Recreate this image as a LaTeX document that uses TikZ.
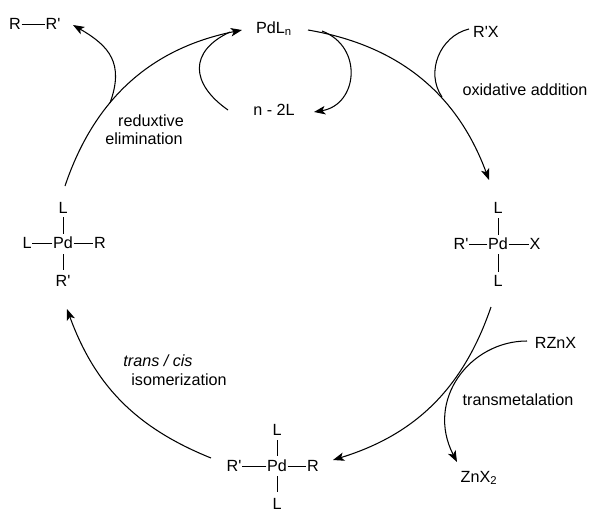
\documentclass[tikz,border=0pt]{standalone}
\usepackage{fontspec}
\setmainfont{Liberation Sans}
\usetikzlibrary{arrows.meta}
\newcommand{\prm}{\textquotesingle}

\begin{document}
\begin{tikzpicture}[x=0.025cm,y=-0.025cm,
        lbl/.style={inner sep=0.3pt,font=\fontsize{11.5pt}{13pt}\selectfont},
        bond/.style={line width=0.6pt},
        cyc/.style={line width=0.75pt,-{Stealth[length=8pt,width=6pt,inset=2pt]}},
        side/.style={line width=0.75pt}]
        \useasboundingbox (0,0) rectangle (600,520);

        % Catalyst and products
        \node[lbl] (pdln) at (274,28.5) {PdL\textsubscript{n}};
        \node[lbl] (loss) at (274,110) {n - 2L};
        \node[lbl] (rgt) at (53,24) {R\prm};
        \node[lbl] (lft) at (15,24) {R};
        \draw[bond] (lft) -- (rgt);

        % Complex on the right
        \node[lbl] (pdA) at (498,244) {Pd};
        \node[lbl] (aT) at (498,208) {L};
        \node[lbl] (aB) at (498,281) {L};
        \node[lbl] (aL) at (461,244) {R\prm};
        \node[lbl] (aR) at (535,244) {X};
        \draw[bond] (pdA) -- (aL);
        \draw[bond] (pdA) -- (aR);
        \draw[bond] (498,218) -- (498,235);
        \draw[bond] (498,254) -- (498,272);

        % Complex at the bottom
        \node[lbl] (pdB) at (277,466) {Pd};
        \node[lbl] (bT) at (277,430) {L};
        \node[lbl] (bB) at (277,504) {L};
        \node[lbl] (bL) at (234,466) {R\prm};
        \node[lbl] (bR) at (313,466) {R};
        \draw[bond] (pdB) -- (bL);
        \draw[bond] (pdB) -- (bR);
        \draw[bond] (277,440) -- (277,456);
        \draw[bond] (277,476) -- (277,492);

        % Complex on the left
        \node[lbl] (pdC) at (63,243) {Pd};
        \node[lbl] (cT) at (63,208) {L};
        \node[lbl] (cB) at (63,281) {R\prm};
        \node[lbl] (cL) at (27,243) {L};
        \node[lbl] (cR) at (100,243) {R};
        \draw[bond] (pdC) -- (cL);
        \draw[bond] (pdC) -- (cR);
        \draw[bond] (63,217) -- (63,234);
        \draw[bond] (63,254) -- (63,270);

        % Reagents and labels
        \node[lbl] (rpx) at (486,32) {R\prm X};
        \node[lbl] (rznx) at (555.5,343) {RZnX};
        \node[lbl] (znx) at (479,478) {ZnX\textsubscript{2}};
        \node[lbl] (oxi) at (525,90) {oxidative addition};
        \node[lbl] (tra) at (518,400) {transmetalation};
        \node[lbl] (red) at (151,121) {reduxtive};
        \node[lbl] (eli) at (144,139) {elimination};
        \node[lbl] (tci) at (158,361) {\textit{trans / cis}};
        \node[lbl] (iso) at (179,380) {isomerization};

        % Ends of the arcs
        \coordinate (a1) at (308,30);
        \coordinate (a2) at (489,180);
        \coordinate (b1) at (491,307);
        \coordinate (b2) at (333,460);
        \coordinate (c1) at (211,458);
        \coordinate (c2) at (67,309);
        \coordinate (d1) at (65,186);
        \coordinate (d2) at (242,30);

        % Cycle
        \draw[cyc] (a1) to[bend left=30] (a2);
        \draw[cyc] (b1) to[bend left=27] (b2);
        \draw[cyc] (c1) to[bend left=24] (c2);
        \draw[cyc] (d1) to[bend left=30] (d2);

        % Side arcs
        \coordinate (e1) at (322,31);
        \coordinate (e2) at (314,112);
        \coordinate (f1) at (228,110);
        \coordinate (f2) at (230,32);
        \coordinate (g1) at (110,103);
        \coordinate (g2) at (73,25);
        \coordinate (h1) at (469,29);
        \coordinate (h2) at (442,97);
        \coordinate (i1) at (527,341);
        \coordinate (i2) at (457,462);
        \draw[cyc] (e1) to[bend left=75,looseness=1.4] (e2);
        \draw[side] (f1) to[out=145,in=205,looseness=1.5] (f2);
        \draw[cyc] (g1) to[out=70,in=-30,looseness=1.25] (g2);
        \draw[side] (h1) .. controls (440,36) and (425,72) .. (h2);
        \draw[cyc] (i1) .. controls (470,341) and (425,400) .. (i2);
\end{tikzpicture}
\end{document}
